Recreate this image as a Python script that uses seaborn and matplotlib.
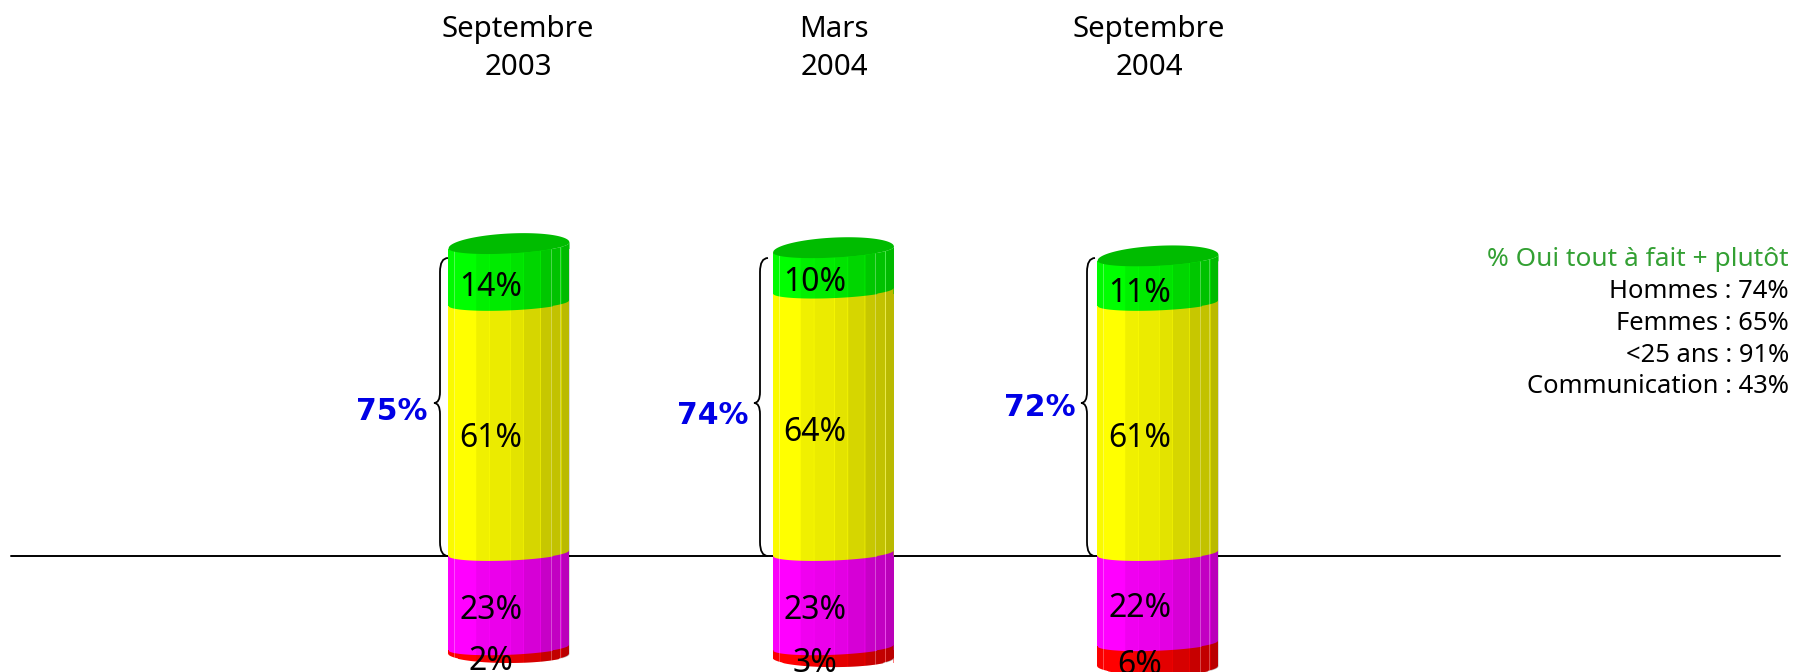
# stacked cylinders, positive and negative part around the axis line
import numpy as np
import seaborn as sns
import matplotlib.pyplot as plt
from matplotlib.path import Path
from matplotlib.patches import PathPatch

periods = ['Septembre 2003', 'Mars 2004', 'Septembre 2004']
tout_a_fait = [14, 10, 11]
plutot = [61, 64, 61]
plutot_pas = [23, 23, 22]
pas_du_tout = [2, 3, 6]
total_oui = [75, 74, 72]

title_lines = [('Septembre', '2003'), ('Mars', '2004'), ('Septembre', '2004')]
side_title = '% Oui tout à fait + plutôt'
side_lines = ['Hommes : 74%', 'Femmes : 65%', '<25 ans : 91%', 'Communication : 43%']

GREEN, YELLOW, MAGENTA, RED = '#00ff00', '#ffff00', '#ff00ff', '#ff0000'
W, H = 1794, 672
Y0, PX_PER_PCT = 556, 4.1     # axis line position and vertical scale
X0, X_STEP, BAR_W = 508.5, 324.5, 121


def xd(px):
    return (px - X0) / X_STEP


def yd(px):
    return (Y0 - px) / PX_PER_PCT


sns.set_theme(style='white')
plt.rcParams['font.family'] = ['Noto Sans', 'DejaVu Sans']

fig = plt.figure(figsize=(W / 100, H / 100), dpi=100)
ax = fig.add_axes([0, 0, 1, 1])

up1 = np.array(plutot)
up2 = up1 + np.array(tout_a_fait)
down1 = -np.array(plutot_pas)
down2 = down1 - np.array(pas_du_tout)

# axis line goes behind the bars
ax.plot([xd(11), xd(1780)], [0, 0], color='black', lw=1.4, zorder=0.5)

# outer totals first, the inner part is painted over them
for vals, col in [(up2, GREEN), (up1, YELLOW), (down2, RED), (down1, MAGENTA)]:
    sns.barplot(x=periods, y=vals, order=periods, color=col, saturation=1,
                width=BAR_W / X_STEP, linewidth=0, ax=ax, zorder=2)

half = BAR_W / X_STEP / 2
t = np.linspace(-1, 1, 241)
arc = np.sqrt(1 - t ** 2)
strip_edges = [0, .05, .225, .34, .51, .62, .76, .85, .93, 1]
strip_dark = [.02, 0, .06, .08, .11, .16, .22, .24, .27]
seams = [.05, .85, .93]
PAD = .3   # covers the straight bar edge under a curved one


def curve(v, offset=-3, depth=7, tilt=2.5):
    # front edge of a ring, in data units
    return v - (offset + depth * arc - tilt * t) / PX_PER_PCT


def ring(xs, v, c, upper, lower):
    ax.fill_between(xs, v + PAD, c, where=c <= v, color=upper, lw=0, zorder=3)
    ax.fill_between(xs, v - PAD, c, where=c >= v, color=lower, lw=0, zorder=3)


for i in range(len(periods)):
    xs = i + t * half
    ring(xs, up1[i], curve(up1[i]), GREEN, YELLOW)
    ring(xs, 0, curve(0), YELLOW, MAGENTA)
    ring(xs, down1[i], curve(down1[i]), MAGENTA, RED)

    # bottom edge and front of the top cap
    bottom = curve(down2[i], offset=-5, depth=9, tilt=0)
    ring(xs, down2[i], bottom, RED, 'white')
    front = curve(up2[i], offset=-3.5, depth=8, tilt=3)
    ax.fill_between(xs, up2[i], front, color=GREEN, lw=0, zorder=3)

    # vertical shading strips
    for k, dark in enumerate(strip_dark):
        f = (t + 1) / 2
        m = (f >= strip_edges[k]) & (f <= strip_edges[k + 1])
        ax.fill_between(xs[m], bottom[m], front[m], color='black', alpha=dark, lw=0, zorder=4)
    for s in seams:
        j = int(s * (len(t) - 1))
        ax.plot([xs[j], xs[j]], [bottom[j], front[j]], color='white', alpha=.3, lw=.7, zorder=4)

    # top cap
    back = curve(up2[i], offset=-3.5, depth=-12, tilt=3)
    ax.fill_between(xs, front, back, color='#00bc00', lw=0, zorder=5)

    # value labels
    ax.text(i - .055, (up1[i] + up2[i]) / 2 - 2.4, f'{tout_a_fait[i]}%', ha='center', va='center',
            fontsize=23, color='black', zorder=6)
    ax.text(i - .055, up1[i] / 2 - 1.8, f'{plutot[i]}%', ha='center', va='center',
            fontsize=23, color='black', zorder=6)
    ax.text(i - .055, down1[i] / 2 - 1.7, f'{plutot_pas[i]}%', ha='center', va='center',
            fontsize=23, color='black', zorder=6)
    ax.text(i - .055, (down1[i] + down2[i]) / 2 - 1.8, f'{pas_du_tout[i]}%', ha='center', va='center',
            fontsize=23, color='black', zorder=6)

# braces and totals
brace_x = [434, 754, 1081]
total_x = [392, 713, 1040]
total_y = [412, 415, 408]
for bx, tx, ty, val in zip(brace_x, total_x, total_y, total_oui):
    pts = [(bx + 14, 258), (bx + 6, 258), (bx + 6, 272), (bx + 6, 392), (bx + 6, 403), (bx, 403),
           (bx + 6, 403), (bx + 6, 414), (bx + 6, 542), (bx + 6, 556), (bx + 14, 556)]
    codes = [Path.MOVETO, Path.CURVE3, Path.CURVE3, Path.LINETO, Path.CURVE3, Path.CURVE3,
             Path.CURVE3, Path.CURVE3, Path.LINETO, Path.CURVE3, Path.CURVE3]
    verts = [(xd(a), yd(b)) for a, b in pts]
    ax.add_patch(PathPatch(Path(verts, codes), fc='none', ec='black', lw=1.3, zorder=1))
    fig.text(tx / W, 1 - ty / H, f'{val}%', ha='center', va='center', fontsize=21.5,
             fontweight='bold', color='#0000e6', family='DejaVu Sans')

# period titles
title_x = [518, 834, 1149]
for tx, (l1, l2) in zip(title_x, title_lines):
    fig.text(tx / W, 1 - 29.5 / H, l1, ha='center', va='center', fontsize=21.2, color='black')
    fig.text(tx / W, 1 - 67.5 / H, l2, ha='center', va='center', fontsize=21.2, color='black')

# side note
fig.text(1789 / W, 1 - 260 / H, side_title, ha='right', va='center', fontsize=18.9, color='#33a033')
for y, line in zip([291, 323, 355, 387], side_lines):
    fig.text(1789 / W, 1 - y / H, line, ha='right', va='center', fontsize=18.4, color='black')

ax.set_xlim(xd(0), xd(W))
ax.set_ylim(yd(H), yd(0))
ax.axis('off')
fig.savefig('out.png', dpi=100)
